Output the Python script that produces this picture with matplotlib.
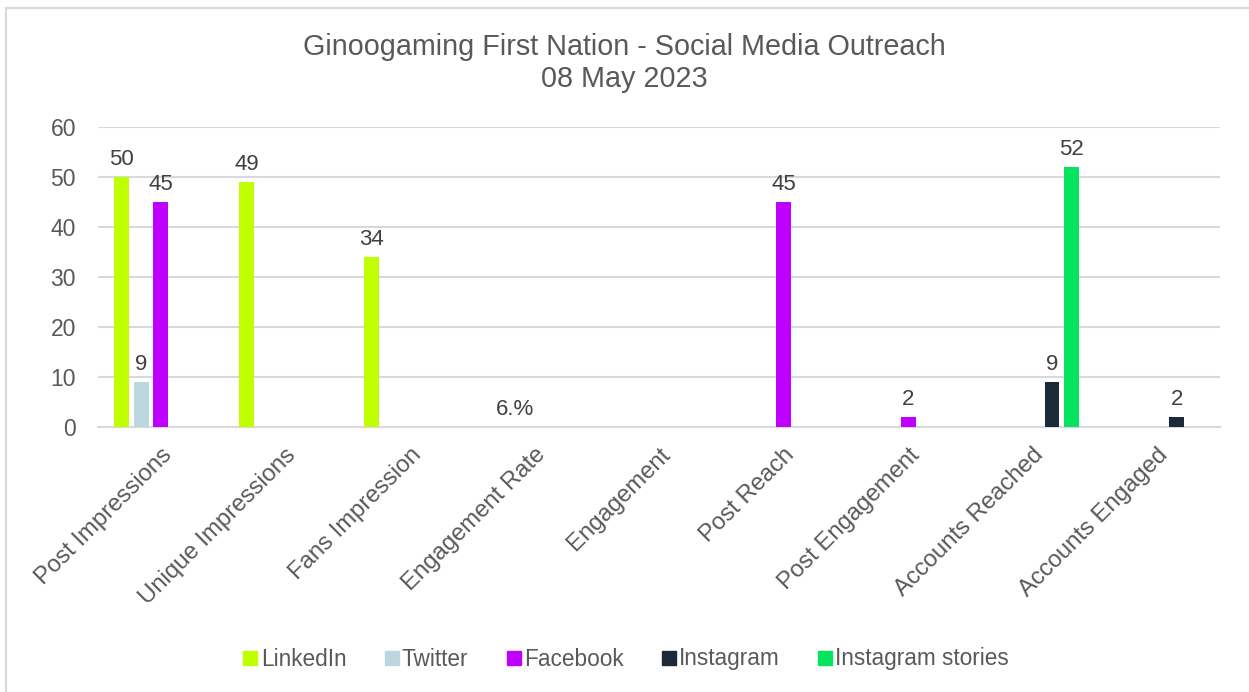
import numpy as np
import matplotlib
matplotlib.use('Agg')
import matplotlib.pyplot as plt
from matplotlib.patches import Rectangle
from matplotlib.lines import Line2D

plt.rcParams['font.family'] = ['Liberation Sans', 'DejaVu Sans']

categories = ['Post Impressions', 'Unique Impressions', 'Fans Impression',
              'Engagement Rate', 'Engagement', 'Post Reach', 'Post Engagement',
              'Accounts Reached', 'Accounts Engaged']
series = ['LinkedIn', 'Twitter', 'Facebook', 'Instagram', 'Instagram stories']
linkedin = [50, 49, 34, None, None, None, None, None, None]
twitter = [9, None, None, 0.06, None, None, None, None, None]
facebook = [45, None, None, None, None, 45, 2, None, None]
instagram = [None, None, None, None, None, None, None, 9, 2]
insta_stories = [None, None, None, None, None, None, None, 52, None]
values = [linkedin, twitter, facebook, instagram, insta_stories]
colors = ['#BFFF00', '#BDD7E0', '#C000FF', '#1B2A38', '#06E35E']


def fmt(v):
    if v < 1:
        return '%d.%%' % round(v * 100)
    return '%d' % v


fig = plt.figure(figsize=(12.49, 6.92), dpi=100)
ax = fig.add_axes([98.2 / 1249, 1 - 427.3 / 692, 1121.4 / 1249, 300 / 692])

x = np.arange(len(categories))
pitch = 0.155
width = 0.12
for i, (name, vals) in enumerate(zip(series, values)):
    off = (i - 2) * pitch
    for j, v in enumerate(vals):
        if v is None:
            continue
        ax.bar(x[j] + off, v, width, color=colors[i], zorder=3)
        ax.text(x[j] + off, v + 2.4, fmt(v), ha='center', va='baseline',
                fontsize=16, color='#404040')

ax.set_xlim(-0.5, len(categories) - 0.5)
ax.set_ylim(0, 60)
ax.set_yticks(range(0, 61, 10))
ax.yaxis.grid(True, color='#D9D9D9', linewidth=1.5, zorder=0)
for s in ['top', 'right', 'left']:
    ax.spines[s].set_visible(False)
ax.spines['bottom'].set_color('#D9D9D9')
ax.spines['bottom'].set_linewidth(1.5)
ax.tick_params(axis='both', length=0, labelsize=16.5, labelcolor='#595959')
ax.tick_params(axis='y', pad=16)
ax.set_xticks(x)
ax.set_xticklabels(categories, rotation=45, ha='right', va='top',
                   rotation_mode='anchor', fontsize=17.2)
ax.tick_params(axis='x', pad=12)

fig.text(0.5, 1 - 47 / 692, 'Ginoogaming First Nation - Social Media Outreach',
         ha='center', va='center', fontsize=20.7, color='#595959')
fig.text(0.5, 1 - 79 / 692, '08 May 2023', ha='center', va='center',
         fontsize=20.7, color='#595959')

handles = [Line2D([], [], marker='s', linestyle='none', markersize=10,
                  markerfacecolor=c, markeredgecolor=c) for c in colors]
fig.legend(handles, series, loc='center', bbox_to_anchor=(0.5, 1 - 659 / 692),
           ncol=5, frameon=False, fontsize=16.3, handletextpad=0.0,
           columnspacing=1.55, labelcolor='#595959', handlelength=0.9)

fig.patches.append(Rectangle((6 / 1249, -0.1), 1.2, (1 - 8 / 692) + 0.1,
                             transform=fig.transFigure, fill=False,
                             edgecolor='#D9D9D9', linewidth=1.5))

fig.savefig('out.png', dpi=100)
